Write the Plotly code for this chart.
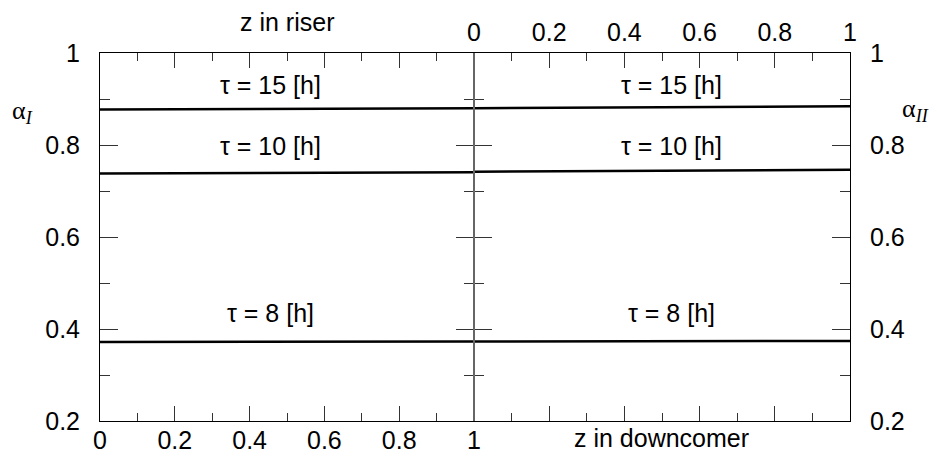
import plotly.graph_objects as go

# ---- data ----
z_riser = [0.0, 1.0]
z_down = [0.0, 1.0]
tau_labels = ["τ = 15 [h]", "τ = 10 [h]", "τ = 8 [h]"]
alpha_riser_15 = [0.877, 0.880]
alpha_riser_10 = [0.738, 0.741]
alpha_riser_8 = [0.372, 0.373]
alpha_down_15 = [0.880, 0.884]
alpha_down_10 = [0.742, 0.746]
alpha_down_8 = [0.373, 0.374]
x_tickvals = [0, 0.2, 0.4, 0.6, 0.8, 1]
x_ticktext = ["0", "0.2", "0.4", "0.6", "0.8", "1"]
y_tickvals = [0.2, 0.4, 0.6, 0.8, 1.0]
y_ticktext = ["0.2", "0.4", "0.6", "0.8", "1"]

FONT = "Liberation Sans, Arial, sans-serif"
fig = go.Figure()

line_style = dict(color="black", width=2.5)
for ys in (alpha_riser_15, alpha_riser_10, alpha_riser_8):
    fig.add_trace(go.Scatter(x=z_riser, y=ys, mode="lines", line=line_style,
                             xaxis="x", yaxis="y", showlegend=False, hoverinfo="skip"))
for ys in (alpha_down_15, alpha_down_10, alpha_down_8):
    fig.add_trace(go.Scatter(x=z_down, y=ys, mode="lines", line=line_style,
                             xaxis="x2", yaxis="y2", showlegend=False, hoverinfo="skip"))

split = 374 / 750
tick_col = "#333"
tick_font = dict(family=FONT, size=25, color="black")
common_x = dict(range=[0, 1], tickvals=x_tickvals, ticktext=x_ticktext, ticks="inside",
                ticklen=15, tickwidth=1, tickcolor=tick_col, showline=True, linecolor="black",
                linewidth=1, mirror="ticks", showgrid=False, zeroline=False,
                minor=dict(dtick=0.1, ticks="inside", ticklen=8, tickcolor=tick_col),
                tickfont=tick_font, fixedrange=True)
common_y = dict(range=[0.2, 1.0], tickvals=y_tickvals, ticktext=y_ticktext, ticks="inside",
                ticklen=18, tickwidth=1, tickcolor=tick_col, showline=True, linecolor="black",
                linewidth=1, mirror="ticks", showgrid=False, zeroline=False,
                minor=dict(dtick=0.1, ticks="inside", ticklen=10, tickcolor=tick_col),
                tickfont=tick_font, fixedrange=True)

fig.update_layout(
    width=937, height=466,
    margin=dict(l=100, r=87, t=53, b=37),
    paper_bgcolor="white", plot_bgcolor="white",
    xaxis=dict(domain=[0, split], anchor="y", side="bottom", ticklabelstandoff=-3, **common_x),
    xaxis2=dict(domain=[split, 1], anchor="y2", side="top", showticklabels=True,
                ticklabelstandoff=1, **common_x),
    yaxis=dict(domain=[0, 1], anchor="x", side="left", ticklabelstandoff=14, **common_y),
    yaxis2=dict(domain=[0, 1], anchor="x2", side="right", ticklabelstandoff=14, **common_y),
)

# middle divider in gray
fig.add_shape(type="line", xref="paper", yref="paper", x0=split, x1=split, y0=0, y1=1,
              line=dict(color="#888", width=1.5), layer="above")

ann_font = dict(family=FONT, size=25, color="black")
label_y = [0.930, 0.798, 0.434]
for txt, yv in zip(tau_labels, label_y):
    fig.add_annotation(x=0.455, y=yv, xref="x", yref="y", text=txt, showarrow=False,
                       font=ann_font, xanchor="center", yanchor="middle")
    fig.add_annotation(x=0.525, y=yv, xref="x2", yref="y2", text=txt, showarrow=False,
                       font=ann_font, xanchor="center", yanchor="middle")

fig.add_annotation(x=0.249, y=1.085, xref="paper", yref="paper", text="z in riser",
                   showarrow=False, font=ann_font, xanchor="center", yanchor="middle")
fig.add_annotation(x=0.748, y=-0.045, xref="paper", yref="paper", text="z in downcomer",
                   showarrow=False, font=ann_font, xanchor="center", yanchor="middle")

greek_font = dict(family="Liberation Serif, Times New Roman, serif", size=26, color="black")
fig.add_annotation(x=-0.103, y=0.84, xref="paper", yref="paper",
                   text="α<sub><i>I</i></sub>", showarrow=False, font=greek_font,
                   xanchor="center", yanchor="middle")
fig.add_annotation(x=1.087, y=0.845, xref="paper", yref="paper",
                   text="α<sub><i>II</i></sub>", showarrow=False, font=greek_font,
                   xanchor="center", yanchor="middle")

fig.write_html("out.html")
